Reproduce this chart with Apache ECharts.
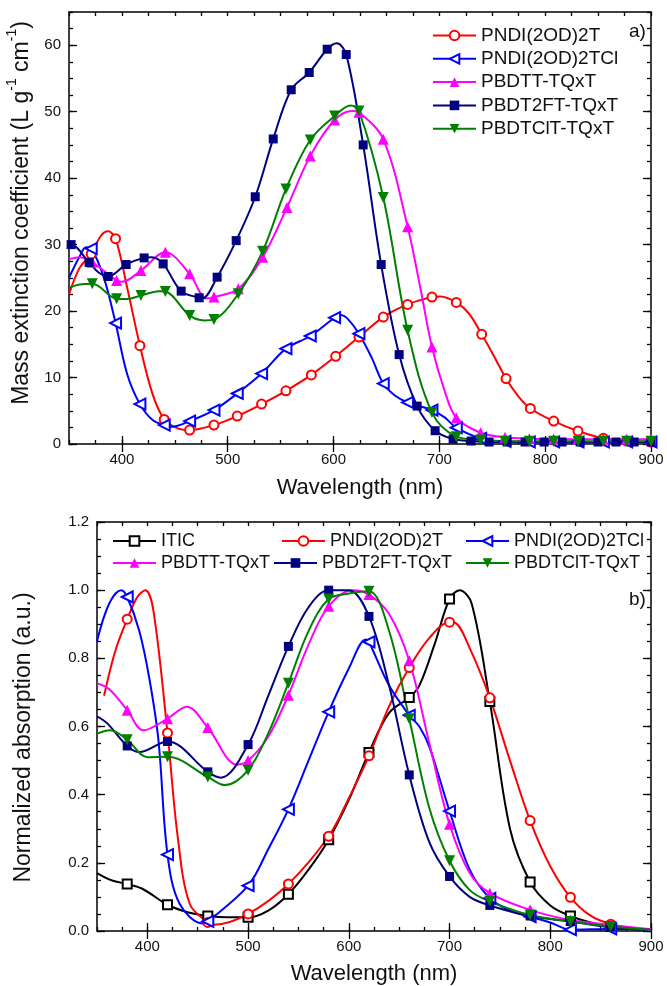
<!DOCTYPE html>
<html><head><meta charset="utf-8">
<script src="https://cdn.jsdelivr.net/npm/echarts@6/dist/echarts.min.js"></script>
<style>html,body{margin:0;padding:0;background:#fff}#c{width:667px;height:986px}</style>
</head><body><div id="c"></div>
<script>
// ---------------- Tick labels ----------------
const wavelengthTicks = [400, 500, 600, 700, 800, 900];
const massTicks = [0, 10, 20, 30, 40, 50, 60];
const normTicks = [0, 0.2, 0.4, 0.6, 0.8, 1.0, 1.2];

// ---------------- Panel a: mass extinction coefficient ----------------
// *_marks : points carrying a marker ; *_path : extra points on the curve
const aPNDI2T_marks = [[371,28.6],[394,30.9],[417,14.8],[440,3.7],[464,2.1],[487,2.85],[509,4.2],[532,6.0],[555,8.0],[579,10.4],[602,13.2],[624,16.1],[647,19.1],[670,21.0],[693,22.1],[716,21.3],[740,16.5],[763,9.85],[786,5.35],[808,3.45],[831,1.95],[855,0.85],[877,0.45],[900,0.3]];
const aPNDI2T_path = [[350,22.5],[360,26.5],[380,31.3],[387,32.0],[405,23.5],[429,7.5],[452,2.4],[701,22.2],[728,19.6],[751,13.4],[774,7.3]];

const aPNDI2TCl_marks = [[371,29.4],[394,18.2],[417,6.0],[440,2.85],[464,3.45],[487,5.1],[509,7.6],[532,10.6],[555,14.35],[578,16.25],[601,19.0],[624,16.6],[647,9.1],[670,6.25],[693,5.1],[716,2.45],[739,0.85],[762,0.4],[785,0.3],[808,0.3],[831,0.3],[855,0.3],[877,0.3],[900,0.3]];
const aPNDI2TCl_path = [[350,25.0],[360,28.2],[366,29.6],[383,25.0],[405,10.5],[429,3.6],[447,2.6],[607,19.4],[613,18.9],[636,13.0],[658,7.3],[705,4.0]];

const aPBDTT_marks = [[372,27.35],[395,24.6],[418,26.1],[441,28.85],[464,25.6],[487,22.1],[510,23.35],[533,28.1],[556,35.6],[578,43.35],[601,48.75],[624,49.9],[647,45.85],[670,32.7],[693,14.6],[716,3.95],[739,1.7],[762,1.0],[785,0.8],[808,0.75],[831,0.7],[855,0.7],[877,0.7],[900,0.7]];
const aPBDTT_path = [[350,27.8],[360,28.1],[400,24.4],[480,21.9],[618,50.1],[682,23.5],[705,8.0]];

const aPBDT2FT_marks = [[352,30.0],[369,27.3],[387,25.2],[404,27.0],[421,28.0],[439,27.1],[456,23.0],[473,22.0],[490,25.1],[508,30.6],[526,37.2],[543,45.9],[560,53.3],[577,55.9],[594,59.4],[612,58.6],[628,45.0],[645,27.0],[662,13.45],[679,5.7],[696,2.0],[713,0.75],[730,0.45],[747,0.3],[764,0.3],[781,0.3],[799,0.3],[816,0.3],[833,0.3],[850,0.3],[867,0.3],[884,0.3],[900,0.3]];
const aPBDT2FT_path = [[350,30.0],[378,25.8],[428,28.1],[476,21.9],[603,60.3]];

const aPBDTClT_marks = [[372,24.1],[395,21.85],[418,22.35],[441,22.95],[464,19.35],[487,18.75],[510,22.6],[533,29.0],[555,38.35],[578,45.75],[601,49.35],[624,50.1],[647,37.1],[670,17.1],[693,4.75],[716,1.1],[739,0.6],[762,0.4],[785,0.4],[808,0.4],[831,0.4],[855,0.4],[877,0.4],[900,0.4]];
const aPBDTClT_path = [[350,23.5],[360,24.0],[405,21.8],[435,23.0],[478,18.6],[616,50.95]];

// ---------------- Panel b: normalized absorption ----------------
const bITIC_marks = [[380,0.138],[420,0.077],[460,0.044],[500,0.040],[540,0.108],[580,0.268],[620,0.524],[660,0.685],[700,0.974],[740,0.673],[780,0.144],[820,0.044],[860,0.013]];
const bITIC_path = [[350,0.17],[365,0.148],[395,0.124],[440,0.055],[480,0.040],[520,0.060],[560,0.18],[600,0.385],[640,0.64],[670,0.72],[685,0.84],[710,1.0],[722,0.96],[760,0.30],[800,0.075],[840,0.025],[880,0.006],[900,0.003]];

const bPNDI2T_marks = [[380,0.915],[420,0.581],[460,0.025],[500,0.05],[540,0.138],[580,0.278],[620,0.514],[660,0.773],[700,0.906],[740,0.684],[780,0.324],[820,0.099],[860,0.02]];
const bPNDI2T_path = [[357,0.69],[368,0.82],[390,0.98],[398,1.0],[406,0.94],[430,0.28],[442,0.08],[466,0.018],[600,0.39],[640,0.66],[680,0.86],[705,0.905],[720,0.83],[760,0.50],[800,0.19],[840,0.045],[880,0.008],[900,0.004]];

const bPNDI2TCl_marks = [[380,0.98],[420,0.224],[460,0.028],[500,0.133],[540,0.357],[580,0.643],[620,0.848],[660,0.633],[700,0.352],[740,0.096],[780,0.042],[820,0.004],[860,0.006]];
const bPNDI2TCl_path = [[350,0.85],[362,0.96],[374,1.0],[392,0.88],[402,0.74],[411,0.56],[432,0.08],[455,0.022],[520,0.24],[560,0.50],[600,0.77],[617,0.855],[640,0.72],[670,0.60],[680,0.54],[720,0.18],[760,0.06],[800,0.025],[880,0.006],[900,0.002]];

const bPBDTT_marks = [[380,0.648],[420,0.623],[460,0.597],[500,0.50],[540,0.692],[580,0.953],[620,0.987],[660,0.793],[700,0.313],[740,0.111],[780,0.062],[820,0.032],[860,0.018]];
const bPBDTT_path = [[350,0.727],[362,0.71],[396,0.589],[439,0.658],[489,0.488],[520,0.57],[560,0.84],[604,1.0],[640,0.93],[680,0.55],[720,0.17],[900,0.005]];

const bPBDT2FT_marks = [[380,0.543],[420,0.556],[460,0.467],[500,0.547],[540,0.835],[580,1.0],[620,0.923],[660,0.458],[700,0.16],[740,0.075],[780,0.044],[820,0.028],[860,0.011]];
const bPBDT2FT_path = [[350,0.63],[360,0.61],[392,0.525],[473,0.45],[520,0.69],[560,0.95],[600,1.0],[640,0.72],[680,0.26],[720,0.10],[900,0.003]];

const bPBDTClT_marks = [[380,0.561],[420,0.511],[460,0.452],[500,0.472],[540,0.727],[580,0.974],[620,0.997],[660,0.623],[700,0.206],[740,0.087],[780,0.047],[820,0.028],[860,0.013]];
const bPBDTClT_path = [[350,0.579],[363,0.589],[400,0.51],[477,0.428],[520,0.58],[560,0.88],[600,0.99],[640,0.88],[680,0.36],[720,0.12],[900,0.003]];

// ---------------- build ----------------
const FONT = 'Liberation Sans';
const TXT = '#111';

function merge(marks, path) {
  const pts = marks.map(p => ({v: p, m: true})).concat(path.map(p => ({v: p, m: false})));
  pts.sort((a, b) => a.v[0] - b.v[0]);
  return pts.map(p => p.m ? {value: p.v} : {value: p.v, symbol: 'none'});
}

const styles = {
  'ITIC':          {color: '#000000', symbol: 'emptyRect', rot: 0, size: 9},
  'PNDI(2OD)2T':   {color: '#ff0000', symbol: 'emptyCircle', rot: 0, size: 9},
  'PNDI(2OD)2TCl': {color: '#0000ff', symbol: 'emptyTriangle', rot: 90, size: 11},
  'PBDTT-TQxT':    {color: '#ff00ff', symbol: 'triangle', rot: 0, size: 11},
  'PBDT2FT-TQxT':  {color: '#000080', symbol: 'rect', rot: 0, size: 9},
  'PBDTClT-TQxT':  {color: '#008000', symbol: 'triangle', rot: 180, size: 11}
};

function mkSeries(name, marks, path, xi, yi) {
  const s = styles[name];
  return {
    type: 'line', name, xAxisIndex: xi, yAxisIndex: yi,
    data: merge(marks, path),
    smooth: 0.35,
    symbol: s.symbol, symbolRotate: s.rot, symbolSize: s.size,
    showAllSymbol: true,
    lineStyle: {color: s.color, width: 2},
    itemStyle: {color: s.color, borderWidth: 1.2},
    emphasis: {disabled: true},
    animation: false
  };
}

const lineStyle = {color: '#000', width: 1.5};
const tickStyle = {color: '#000', width: 1.3};
function xAxes(grid, nameGap) {
  const base = {type: 'value', gridIndex: grid, min: 350, max: 900, interval: 25, splitLine: {show: false}};
  return [
    Object.assign({}, base, {position: 'bottom', axisLine: {show: true, onZero: false, lineStyle},
      axisTick: {show: true, inside: true, length: 4, lineStyle: tickStyle},
      axisLabel: {formatter: v => wavelengthTicks.includes(v) ? String(v) : '', fontSize: 15, color: TXT, margin: 8, fontFamily: FONT},
      name: 'Wavelength (nm)', nameLocation: 'middle', nameGap,
      nameTextStyle: {fontSize: 22, color: TXT, fontFamily: FONT}}),
    Object.assign({}, base, {position: 'bottom', axisLine: {show: false},
      axisTick: {show: true, inside: true, length: 8, customValues: wavelengthTicks, lineStyle: tickStyle},
      axisLabel: {show: false}}),
    Object.assign({}, base, {position: 'top', axisLine: {show: true, onZero: false, lineStyle},
      axisTick: {show: true, inside: true, length: 4, lineStyle: tickStyle},
      axisLabel: {show: false}}),
    Object.assign({}, base, {position: 'top', axisLine: {show: false},
      axisTick: {show: true, inside: true, length: 8, customValues: wavelengthTicks, lineStyle: tickStyle},
      axisLabel: {show: false}})
  ];
}
function yAxes(grid, max, interval, ticks, fmt, name, nameGap, nameStyle) {
  const base = {type: 'value', gridIndex: grid, min: 0, max, interval, splitLine: {show: false}};
  const isMajor = v => ticks.some(t => Math.abs(t - v) < 1e-6);
  return [
    Object.assign({}, base, {position: 'left', axisLine: {show: true, onZero: false, lineStyle},
      axisTick: {show: true, inside: true, length: 4, lineStyle: tickStyle},
      axisLabel: {formatter: v => isMajor(v) ? fmt(v) : '', fontSize: 15, color: TXT, margin: 8, fontFamily: FONT},
      name, nameLocation: 'middle', nameGap, nameRotate: 90,
      nameTextStyle: Object.assign({color: TXT, fontFamily: FONT, fontSize: 23}, nameStyle)}),
    Object.assign({}, base, {position: 'left', axisLine: {show: false},
      axisTick: {show: true, inside: true, length: 8, customValues: ticks, lineStyle: tickStyle},
      axisLabel: {show: false}}),
    Object.assign({}, base, {position: 'right', axisLine: {show: true, onZero: false, lineStyle},
      axisTick: {show: true, inside: true, length: 4, lineStyle: tickStyle},
      axisLabel: {show: false}}),
    Object.assign({}, base, {position: 'right', axisLine: {show: false},
      axisTick: {show: true, inside: true, length: 8, customValues: ticks, lineStyle: tickStyle},
      axisLabel: {show: false}})
  ];
}

const nameStyleA = {
  padding: [0, 0, 0, 30],
  rich: {
    t: {fontSize: 23, fontFamily: FONT, color: TXT, lineHeight: 28, verticalAlign: 'bottom'},
    s: {fontSize: 14, fontFamily: FONT, color: TXT, lineHeight: 14, verticalAlign: 'top'}
  }
};
const nameStyleB = {padding: [0, 22, 0, 0]};

const legendBase = {orient: 'vertical', itemWidth: 43, itemHeight: 12, selectedMode: false, padding: 0};
const legendTextA = {fontSize: 19, color: TXT, fontFamily: FONT, lineHeight: 19};
const legendTextB = {fontSize: 18, color: TXT, fontFamily: FONT, lineHeight: 18};

const option = {
  backgroundColor: '#fff',
  animation: false,
  grid: [
    {left: 69, right: 16, top: 12, height: 432, containLabel: false, outerBoundsMode: 'none'},
    {left: 97, right: 16, top: 522, height: 409, containLabel: false, outerBoundsMode: 'none'}
  ],
  xAxis: xAxes(0, 33).concat(xAxes(1, 32)),
  yAxis: yAxes(0, 65, 2.5, massTicks, v => String(v),
              '{t|Mass extinction coefficient (L g}{s|-1}{t| cm}{s|-1}{t|)}', 30, nameStyleA)
         .concat(yAxes(1, 1.2, 0.05, normTicks, v => v.toFixed(1),
              'Normalized absorption (a.u.)', 62, nameStyleB)),
  legend: [
    Object.assign({}, legendBase, {left: 432, top: 26, itemGap: 4.3, textStyle: legendTextA,
      data: ['PNDI(2OD)2T', 'PNDI(2OD)2TCl', 'PBDTT-TQxT', 'PBDT2FT-TQxT', 'PBDTClT-TQxT']}),
    Object.assign({}, legendBase, {left: 112, top: 532, textStyle: legendTextB, data: ['ITIC']}),
    Object.assign({}, legendBase, {left: 281, top: 532, textStyle: legendTextB, data: ['PNDI(2OD)2T']}),
    Object.assign({}, legendBase, {left: 465, top: 532, textStyle: legendTextB, data: ['PNDI(2OD)2TCl']}),
    Object.assign({}, legendBase, {left: 112, top: 554, textStyle: legendTextB, data: ['PBDTT-TQxT']}),
    Object.assign({}, legendBase, {left: 273, top: 554, textStyle: legendTextB, data: ['PBDT2FT-TQxT']}),
    Object.assign({}, legendBase, {left: 465, top: 554, textStyle: legendTextB, data: ['PBDTClT-TQxT']})
  ],
  graphic: [
    {type: 'text', left: 629, top: 22, style: {text: 'a)', fontSize: 19, fontFamily: FONT, fill: TXT}},
    {type: 'text', left: 629, top: 590, style: {text: 'b)', fontSize: 19, fontFamily: FONT, fill: TXT}}
  ],
  series: [
    mkSeries('PNDI(2OD)2T', aPNDI2T_marks, aPNDI2T_path, 0, 0),
    mkSeries('PNDI(2OD)2TCl', aPNDI2TCl_marks, aPNDI2TCl_path, 0, 0),
    mkSeries('PBDTT-TQxT', aPBDTT_marks, aPBDTT_path, 0, 0),
    mkSeries('PBDT2FT-TQxT', aPBDT2FT_marks, aPBDT2FT_path, 0, 0),
    mkSeries('PBDTClT-TQxT', aPBDTClT_marks, aPBDTClT_path, 0, 0),
    mkSeries('ITIC', bITIC_marks, bITIC_path, 4, 4),
    mkSeries('PNDI(2OD)2T', bPNDI2T_marks, bPNDI2T_path, 4, 4),
    mkSeries('PNDI(2OD)2TCl', bPNDI2TCl_marks, bPNDI2TCl_path, 4, 4),
    mkSeries('PBDTT-TQxT', bPBDTT_marks, bPBDTT_path, 4, 4),
    mkSeries('PBDT2FT-TQxT', bPBDT2FT_marks, bPBDT2FT_path, 4, 4),
    mkSeries('PBDTClT-TQxT', bPBDTClT_marks, bPBDTClT_path, 4, 4)
  ]
};

const chart = echarts.init(document.getElementById('c'), null, {renderer: 'canvas'});
chart.setOption(option);
</script></body></html>
